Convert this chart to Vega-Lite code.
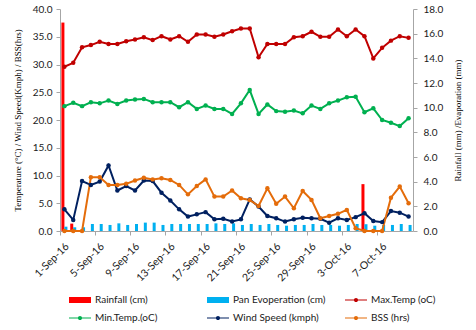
{
  "$schema": "https://vega.github.io/schema/vega-lite/v6.json",
  "autosize": {"type": "none"},
  "width": 353,
  "height": 222,
  "padding": {"left": 60, "top": 9, "right": 63, "bottom": 99},
  "background": "white",
  "config": {
    "view": {"stroke": null},
    "font": "Lato",
    "axis": {
      "domainColor": "#a6a6a6",
      "tickColor": "#a6a6a6",
      "tickSize": 4,
      "grid": false,
      "labelFont": "Lato",
      "labelFontSize": 10,
      "labelColor": "#1a1a1a",
      "titleFont": "Liberation Serif",
      "titleFontSize": 9,
      "titleFontWeight": "normal",
      "titleColor": "#000000"
    },
    "legend": {"gridAlign": "all"}
  },
  "data": {
    "values": [
      {"date": "1-Sep-16", "tmax": 29.6, "tmin": 22.5, "wind": 3.9, "bss": 0.0, "rain": 16.9, "pan": 0.35},
      {"date": "2-Sep-16", "tmax": 30.3, "tmin": 23.1, "wind": 2.0, "bss": 0.0, "rain": 0.6, "pan": 0.30},
      {"date": "3-Sep-16", "tmax": 33.1, "tmin": 22.5, "wind": 9.0, "bss": 0.0, "rain": 0, "pan": 0.30},
      {"date": "4-Sep-16", "tmax": 33.5, "tmin": 23.2, "wind": 8.3, "bss": 9.7, "rain": 0, "pan": 0.57},
      {"date": "5-Sep-16", "tmax": 34.1, "tmin": 23.0, "wind": 8.9, "bss": 9.7, "rain": 0, "pan": 0.57},
      {"date": "6-Sep-16", "tmax": 33.7, "tmin": 23.5, "wind": 11.8, "bss": 8.3, "rain": 0, "pan": 0.49},
      {"date": "7-Sep-16", "tmax": 33.7, "tmin": 22.9, "wind": 7.3, "bss": 8.3, "rain": 0, "pan": 0.62},
      {"date": "8-Sep-16", "tmax": 34.2, "tmin": 23.5, "wind": 8.1, "bss": 8.5, "rain": 0, "pan": 0.49},
      {"date": "9-Sep-16", "tmax": 34.5, "tmin": 23.7, "wind": 7.3, "bss": 9.1, "rain": 0, "pan": 0.57},
      {"date": "10-Sep-16", "tmax": 34.9, "tmin": 23.8, "wind": 9.1, "bss": 9.6, "rain": 0, "pan": 0.68},
      {"date": "11-Sep-16", "tmax": 34.4, "tmin": 23.2, "wind": 9.0, "bss": 9.3, "rain": 0, "pan": 0.68},
      {"date": "12-Sep-16", "tmax": 35.1, "tmin": 23.2, "wind": 6.9, "bss": 9.5, "rain": 0, "pan": 0.49},
      {"date": "13-Sep-16", "tmax": 34.5, "tmin": 23.2, "wind": 5.5, "bss": 9.2, "rain": 0, "pan": 0.57},
      {"date": "14-Sep-16", "tmax": 35.1, "tmin": 22.3, "wind": 3.9, "bss": 8.3, "rain": 0, "pan": 0.57},
      {"date": "15-Sep-16", "tmax": 34.1, "tmin": 23.2, "wind": 2.6, "bss": 6.6, "rain": 0, "pan": 0.57},
      {"date": "16-Sep-16", "tmax": 35.4, "tmin": 22.0, "wind": 3.0, "bss": 8.1, "rain": 0, "pan": 0.57},
      {"date": "17-Sep-16", "tmax": 35.4, "tmin": 22.6, "wind": 3.4, "bss": 9.3, "rain": 0, "pan": 0.57},
      {"date": "18-Sep-16", "tmax": 35.0, "tmin": 22.0, "wind": 2.1, "bss": 6.2, "rain": 0, "pan": 0.62},
      {"date": "19-Sep-16", "tmax": 35.4, "tmin": 22.0, "wind": 2.2, "bss": 6.2, "rain": 0, "pan": 0.57},
      {"date": "20-Sep-16", "tmax": 36.0, "tmin": 21.1, "wind": 1.7, "bss": 7.3, "rain": 0, "pan": 0.62},
      {"date": "21-Sep-16", "tmax": 36.5, "tmin": 23.0, "wind": 2.1, "bss": 5.9, "rain": 0, "pan": 0.49},
      {"date": "22-Sep-16", "tmax": 36.5, "tmin": 25.4, "wind": 5.7, "bss": 5.6, "rain": 0, "pan": 0.57},
      {"date": "23-Sep-16", "tmax": 31.3, "tmin": 21.1, "wind": 4.4, "bss": 4.5, "rain": 0, "pan": 0.49},
      {"date": "24-Sep-16", "tmax": 33.7, "tmin": 22.8, "wind": 2.7, "bss": 7.7, "rain": 0, "pan": 0.57},
      {"date": "25-Sep-16", "tmax": 33.7, "tmin": 21.6, "wind": 2.3, "bss": 4.9, "rain": 0, "pan": 0.49},
      {"date": "26-Sep-16", "tmax": 33.7, "tmin": 21.5, "wind": 1.7, "bss": 6.2, "rain": 0, "pan": 0.43},
      {"date": "27-Sep-16", "tmax": 34.9, "tmin": 21.7, "wind": 2.1, "bss": 4.1, "rain": 0, "pan": 0.49},
      {"date": "28-Sep-16", "tmax": 35.1, "tmin": 21.2, "wind": 2.4, "bss": 7.2, "rain": 0, "pan": 0.49},
      {"date": "29-Sep-16", "tmax": 35.9, "tmin": 22.6, "wind": 2.3, "bss": 5.6, "rain": 0, "pan": 0.57},
      {"date": "30-Sep-16", "tmax": 35.0, "tmin": 22.0, "wind": 2.2, "bss": 2.3, "rain": 0, "pan": 0.49},
      {"date": "1-Oct-16", "tmax": 35.0, "tmin": 23.0, "wind": 1.5, "bss": 2.7, "rain": 0, "pan": 0.49},
      {"date": "2-Oct-16", "tmax": 36.3, "tmin": 23.5, "wind": 2.3, "bss": 3.1, "rain": 0, "pan": 0.43},
      {"date": "3-Oct-16", "tmax": 35.1, "tmin": 24.1, "wind": 2.0, "bss": 3.8, "rain": 0, "pan": 0.49},
      {"date": "4-Oct-16", "tmax": 36.3, "tmin": 24.2, "wind": 2.5, "bss": 0.5, "rain": 0, "pan": 0.57},
      {"date": "5-Oct-16", "tmax": 35.1, "tmin": 21.4, "wind": 3.2, "bss": 0.0, "rain": 3.8, "pan": 0.55},
      {"date": "6-Oct-16", "tmax": 31.1, "tmin": 22.1, "wind": 1.8, "bss": 0.0, "rain": 0, "pan": 0.43},
      {"date": "7-Oct-16", "tmax": 33.0, "tmin": 20.0, "wind": 1.6, "bss": 0.0, "rain": 0, "pan": 0.49},
      {"date": "8-Oct-16", "tmax": 34.3, "tmin": 19.5, "wind": 3.6, "bss": 6.0, "rain": 0, "pan": 0.49},
      {"date": "9-Oct-16", "tmax": 35.1, "tmin": 18.9, "wind": 3.3, "bss": 8.0, "rain": 0, "pan": 0.57},
      {"date": "10-Oct-16", "tmax": 34.8, "tmin": 20.3, "wind": 2.6, "bss": 5.0, "rain": 0, "pan": 0.49}
    ]
  },
  "encoding": {
    "x": {
      "field": "date",
      "type": "ordinal",
      "sort": null,
      "scale": {"paddingInner": 0, "paddingOuter": 0},
      "axis": {
        "title": null,
        "values": ["1-Sep-16", "5-Sep-16", "9-Sep-16", "13-Sep-16", "17-Sep-16", "21-Sep-16", "25-Sep-16", "29-Sep-16", "3-Oct-16", "7-Oct-16"],
        "bandPosition": 0,
        "labelOffset": -0.5,
        "labelAngle": -45,
        "labelFontSize": 10.5,
        "labelPadding": 6
      }
    }
  },
  "layer": [
    {
      "transform": [{"fold": ["rain", "pan"], "as": ["series", "value"]}],
      "mark": {"type": "bar"},
      "encoding": {
        "xOffset": {"field": "series", "type": "nominal", "sort": ["rain", "pan"], "scale": {"paddingInner": 0, "paddingOuter": 0.47}},
        "y": {
          "field": "value",
          "type": "quantitative",
          "scale": {"domain": [0, 18]},
          "axis": {
            "orient": "right",
            "values": [0, 2, 4, 6, 8, 10, 12, 14, 16, 18],
            "format": ".1f",
            "labelPadding": 6,
            "title": "Rainfall (mm) /Evaporation (mm)",
            "titleAngle": -90,
            "titlePadding": 20
          }
        },
        "color": {
          "field": "series",
          "type": "nominal",
          "scale": {
            "domain": ["rain", "pan", "tmax", "tmin", "wind", "bss"],
            "range": ["#ff0000", "#00b0f0", "#c00000", "#00b050", "#002060", "#e46c0a"]
          },
          "legend": {
            "orient": "none",
            "legendX": 9,
            "legendY": 286,
            "title": null,
            "columns": 3,
            "direction": "horizontal",
            "gridAlign": "all",
            "columnPadding": 19,
            "rowPadding": 8,
            "symbolSize": 100,
            "symbolOffset": 6,
            "labelOffset": 10,
            "labelFont": "Lato",
            "labelFontSize": 10,
            "labelColor": "#1a1a1a",
            "labelExpr": "datum.value === 'rain' ? 'Rainfall (cm)' : datum.value === 'pan' ? 'Pan Evoperation (cm)' : datum.value === 'tmax' ? 'Max.Temp (oC)' : datum.value === 'tmin' ? 'Min.Temp.(oC)' : datum.value === 'wind' ? 'Wind Speed (kmph)' : 'BSS (hrs)'",
            "encode": {
              "symbols": {
                "update": {
                  "shape": {"signal": "datum.value === 'rain' || datum.value === 'pan' ? 'M-2.2,-0.6H2.2V0.6H-2.2Z' : 'M-2.2,-0.12H2.2V0.12H-2.2Z M0.42,0A0.42,0.42 0 1,1 -0.42,0A0.42,0.42 0 1,1 0.42,0Z'"},
                  "fill": {"scale": "color", "field": "value"},
                  "fillOpacity": {"value": 1},
                  "strokeWidth": {"value": 0}
                }
              }
            }
          }
        }
      }
    },
    {
      "transform": [{"fold": ["tmax", "tmin", "wind", "bss"], "as": ["series", "value"]}],
      "mark": {"type": "line", "strokeWidth": 2, "point": {"filled": true, "size": 20}},
      "encoding": {
        "y": {
          "field": "value",
          "type": "quantitative",
          "scale": {"domain": [0, 40]},
          "axis": {
            "orient": "left",
            "values": [0, 5, 10, 15, 20, 25, 30, 35, 40],
            "format": ".1f",
            "labelPadding": 4,
            "title": "Temperature (°C) / Wind Speed(Kmph) / BSS(hrs)",
            "titlePadding": 10
          }
        },
        "color": {"field": "series", "type": "nominal"}
      }
    }
  ],
  "resolve": {"scale": {"y": "independent"}}
}
